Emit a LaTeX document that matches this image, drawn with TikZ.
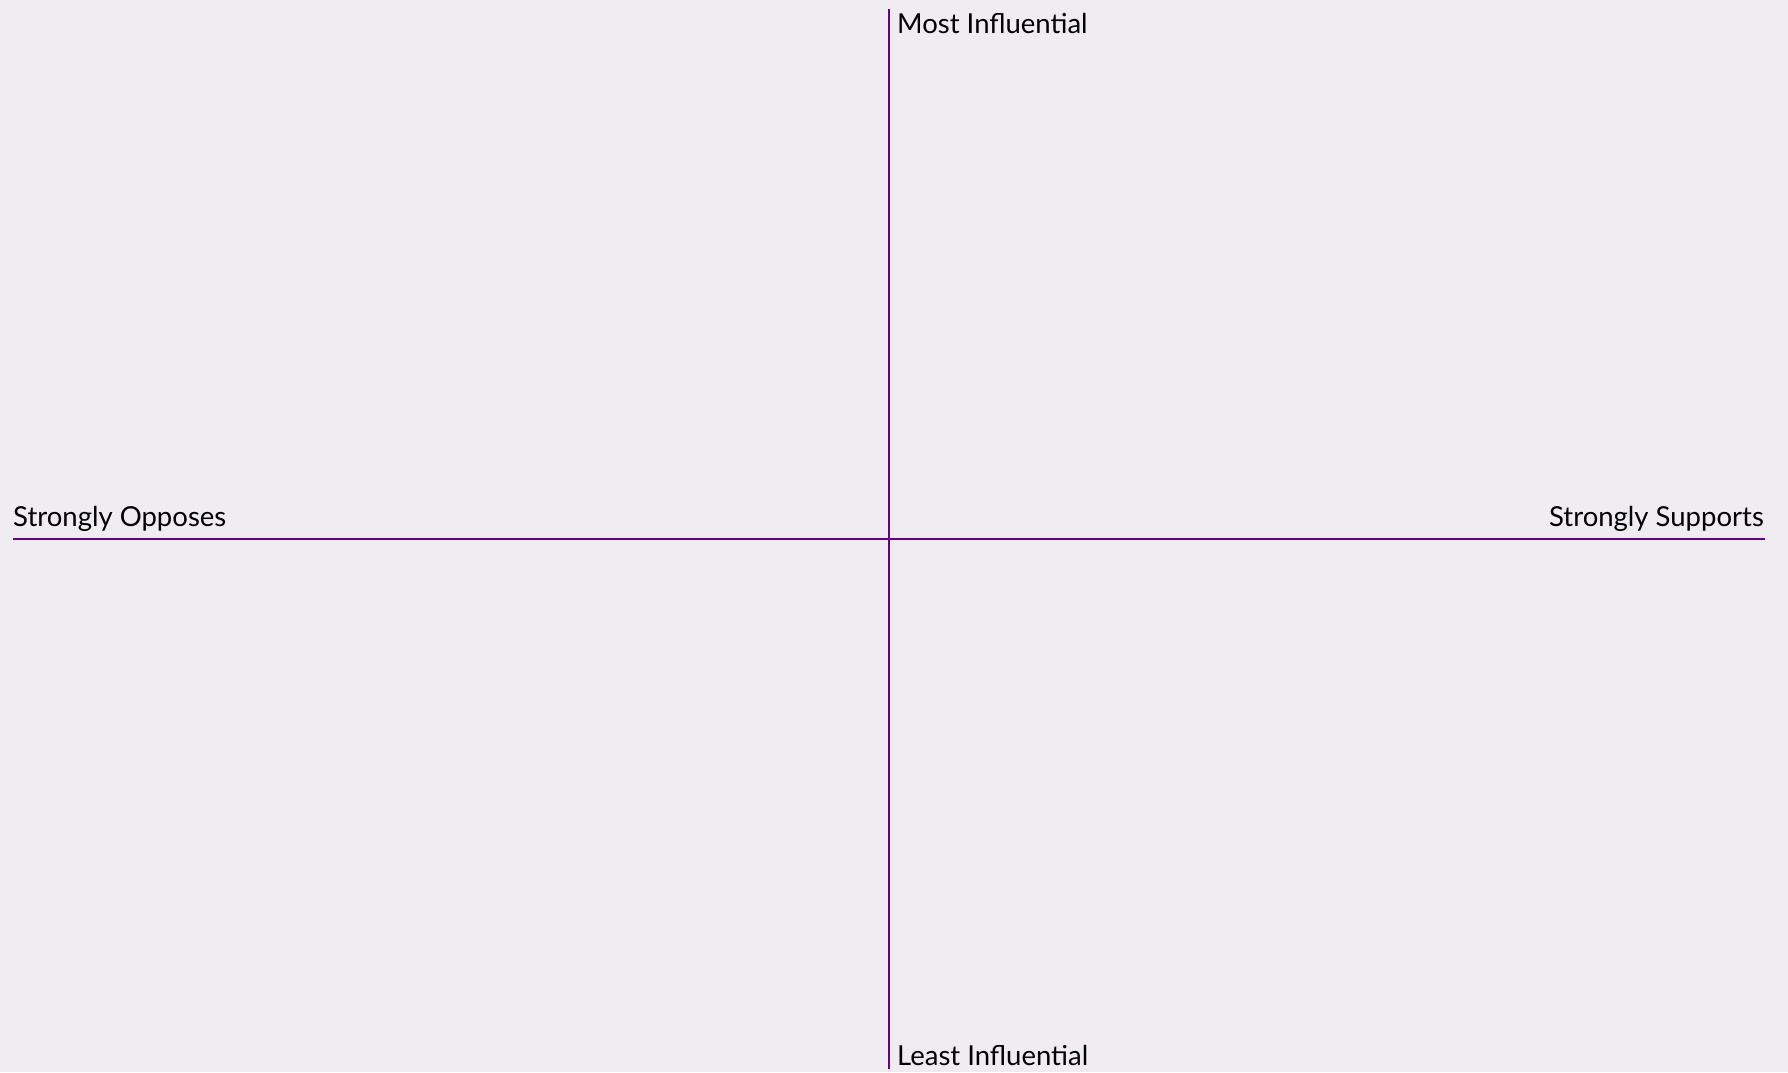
\documentclass[tikz,border=0pt]{standalone}
\usepackage{fontspec}
\setmainfont{Lato}
\definecolor{bg}{RGB}{239,237,242}
\definecolor{axis}{RGB}{102,0,136}
\begin{document}
\begin{tikzpicture}[x=1pt,y=-1pt,
  axisline/.style={draw=axis,line width=2pt},
  lbl/.style={inner sep=0pt,font=\fontsize{27.5}{27.5}\selectfont,text=black}]
\fill[bg] (0,0) rectangle (1788,1072);
\useasboundingbox (0,0) rectangle (1788,1072);
\coordinate (top) at (889,9);
\coordinate (bot) at (889,1069);
\coordinate (left) at (13,538.5);
\coordinate (right) at (1765,538.5);
\draw[axisline] (top) -- (bot);
\draw[axisline] (left) -- (right);
\node[lbl,anchor=base west] (most) at (897,33) {Most Influential};
\node[lbl,anchor=base west] (least) at (897,1065) {Least Influential};
\node[lbl,anchor=base west] (opp) at (13,526) {Strongly Opposes};
\node[lbl,anchor=base east] (sup) at (1764,526) {Strongly Supports};
\end{tikzpicture}
\end{document}
